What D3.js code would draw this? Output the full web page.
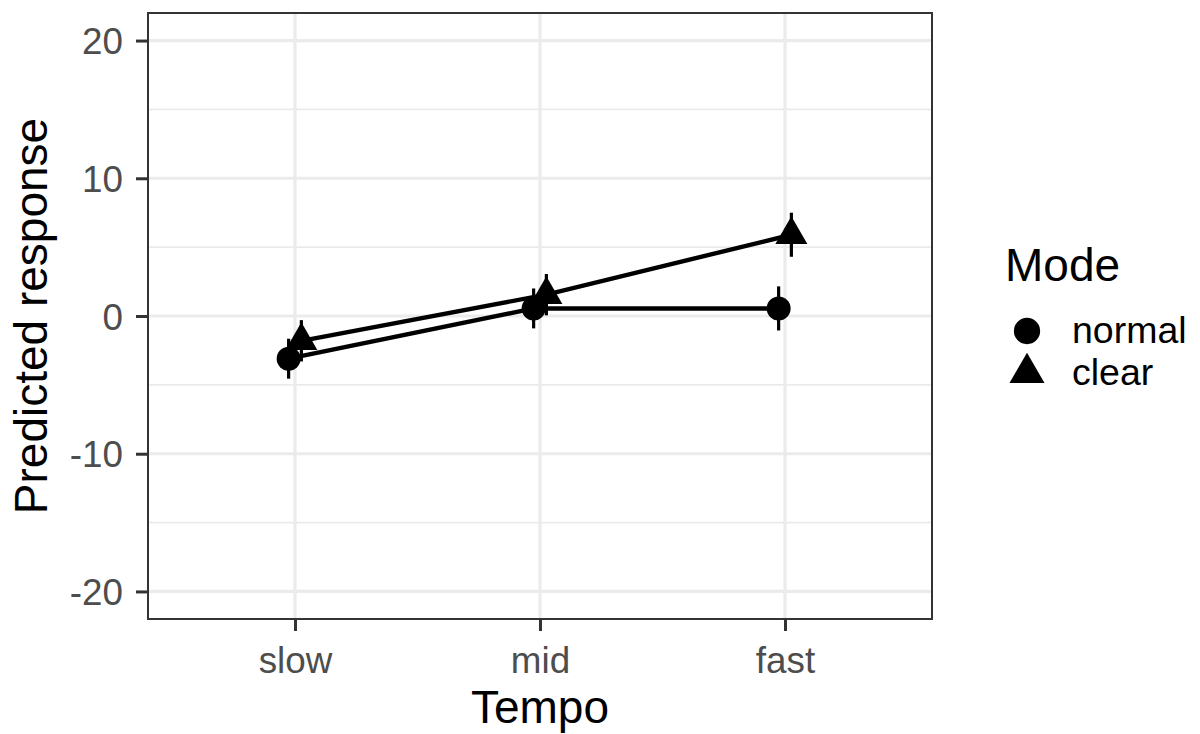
<!DOCTYPE html>
<html>
<head>
<meta charset="utf-8">
<script src="https://cdn.jsdelivr.net/npm/d3@7"></script>
<style>
  html, body { margin: 0; padding: 0; background: #ffffff; }
  svg { display: block; font-family: "Liberation Sans", Arial, sans-serif; }
</style>
</head>
<body>
<svg id="chart" width="1200" height="734"></svg>
<script>
// Categories and series
const tempo = ["slow", "mid", "fast"];
const modes = ["normal", "clear"];
const normalMean = [-3.1, 0.55, 0.55];
const normalSE = [1.45, 1.45, 1.6];
const clearMean = [-1.8, 1.55, 5.9];
const clearSE = [1.5, 1.5, 1.6];
const yMajorTicks = [-20, -10, 0, 10, 20];
const yMinorTicks = [-15, -5, 5, 15];

const series = [
  { mode: "normal", means: normalMean, se: normalSE, shape: d3.symbolCircle, size: 452, dodge: -1 },
  { mode: "clear", means: clearMean, se: clearSE, shape: d3.symbolTriangle, size: 443, dodge: 1 }
];

const svg = d3.select("#chart");
const panel = { left: 148, right: 932, top: 13, bottom: 619 };

const x = d3.scalePoint().domain(tempo).range([panel.left, panel.right]).padding(0.6);
const y = d3.scaleLinear().domain([-22, 22]).range([panel.bottom, panel.top]);
const dodgeOffset = x.step() * 0.026;

// Panel background and grid
svg.append("rect")
  .attr("x", panel.left).attr("y", panel.top)
  .attr("width", panel.right - panel.left).attr("height", panel.bottom - panel.top)
  .attr("fill", "#ffffff");

const grid = svg.append("g");
grid.selectAll(".minor").data(yMinorTicks).join("line")
  .attr("x1", panel.left).attr("x2", panel.right)
  .attr("y1", d => y(d)).attr("y2", d => y(d))
  .attr("stroke", "#EBEBEB").attr("stroke-width", 1.6);
grid.selectAll(".majorY").data(yMajorTicks).join("line")
  .attr("x1", panel.left).attr("x2", panel.right)
  .attr("y1", d => y(d)).attr("y2", d => y(d))
  .attr("stroke", "#EBEBEB").attr("stroke-width", 3.2);
grid.selectAll(".majorX").data(tempo).join("line")
  .attr("x1", d => x(d)).attr("x2", d => x(d))
  .attr("y1", panel.top).attr("y2", panel.bottom)
  .attr("stroke", "#EBEBEB").attr("stroke-width", 3.2);

// Lines, error bars and points
const plot = svg.append("g");
const px = (s, i) => x(tempo[i]) + s.dodge * dodgeOffset;

series.forEach(s => {
  const line = d3.line().x((d, i) => px(s, i)).y(d => y(d));
  plot.append("path")
    .datum(s.means)
    .attr("d", line)
    .attr("fill", "none").attr("stroke", "#000").attr("stroke-width", 4.4);
});

series.forEach(s => {
  plot.selectAll(null).data(s.means).join("line")
    .attr("x1", (d, i) => px(s, i)).attr("x2", (d, i) => px(s, i))
    .attr("y1", (d, i) => y(d - s.se[i])).attr("y2", (d, i) => y(d + s.se[i]))
    .attr("stroke", "#000").attr("stroke-width", 3.2);
});

series.forEach(s => {
  const sym = d3.symbol().type(s.shape).size(s.size);
  plot.selectAll(null).data(s.means).join("path")
    .attr("d", sym)
    .attr("transform", (d, i) => `translate(${px(s, i)},${y(d)})`)
    .attr("fill", "#000");
});

// Panel border
svg.append("rect")
  .attr("x", panel.left).attr("y", panel.top)
  .attr("width", panel.right - panel.left).attr("height", panel.bottom - panel.top)
  .attr("fill", "none").attr("stroke", "#333333").attr("stroke-width", 2);

// Axes (tick labels use a plain hyphen for negatives)
const yAxis = svg.append("g")
  .attr("transform", `translate(${panel.left},0)`)
  .call(d3.axisLeft(y).tickValues(yMajorTicks).tickSize(12).tickPadding(13).tickFormat(d => String(d)));
const xAxis = svg.append("g")
  .attr("transform", `translate(0,${panel.bottom})`)
  .call(d3.axisBottom(x).tickSize(12).tickPadding(14));

[yAxis, xAxis].forEach(ax => {
  ax.select(".domain").remove();
  ax.selectAll(".tick line").attr("stroke", "#333333").attr("stroke-width", 3);
  ax.selectAll(".tick text")
    .attr("fill", "#4D4D4D")
    .style("font-size", "36.8px")
    .style("font-family", '"Liberation Sans", Arial, sans-serif');
});
yAxis.selectAll(".tick text").attr("dy", "0.36em");
xAxis.selectAll(".tick text").attr("dy", "0.75em");

// Axis titles
svg.append("text")
  .attr("x", (panel.left + panel.right) / 2).attr("y", 723)
  .attr("text-anchor", "middle")
  .style("font-size", "46px").attr("fill", "#000")
  .text("Tempo");
svg.append("text")
  .attr("transform", `translate(47,${(panel.top + panel.bottom) / 2}) rotate(-90)`)
  .attr("text-anchor", "middle")
  .style("font-size", "46px").attr("fill", "#000")
  .text("Predicted response");

// Legend
const legend = svg.append("g");
legend.append("text")
  .attr("x", 1005).attr("y", 281)
  .style("font-size", "46px").attr("fill", "#000")
  .text("Mode");
const keyY = d3.scalePoint().domain(modes).range([331, 373]);
series.forEach(s => {
  legend.append("path")
    .attr("d", d3.symbol().type(s.shape).size(s.size * 1.2)())
    .attr("transform", `translate(1027,${keyY(s.mode)})`)
    .attr("fill", "#000");
  legend.append("text")
    .attr("x", 1072).attr("y", keyY(s.mode))
    .attr("dy", "0.33em")
    .style("font-size", "37.5px").attr("fill", "#000")
    .text(s.mode);
});
</script>
</body>
</html>
